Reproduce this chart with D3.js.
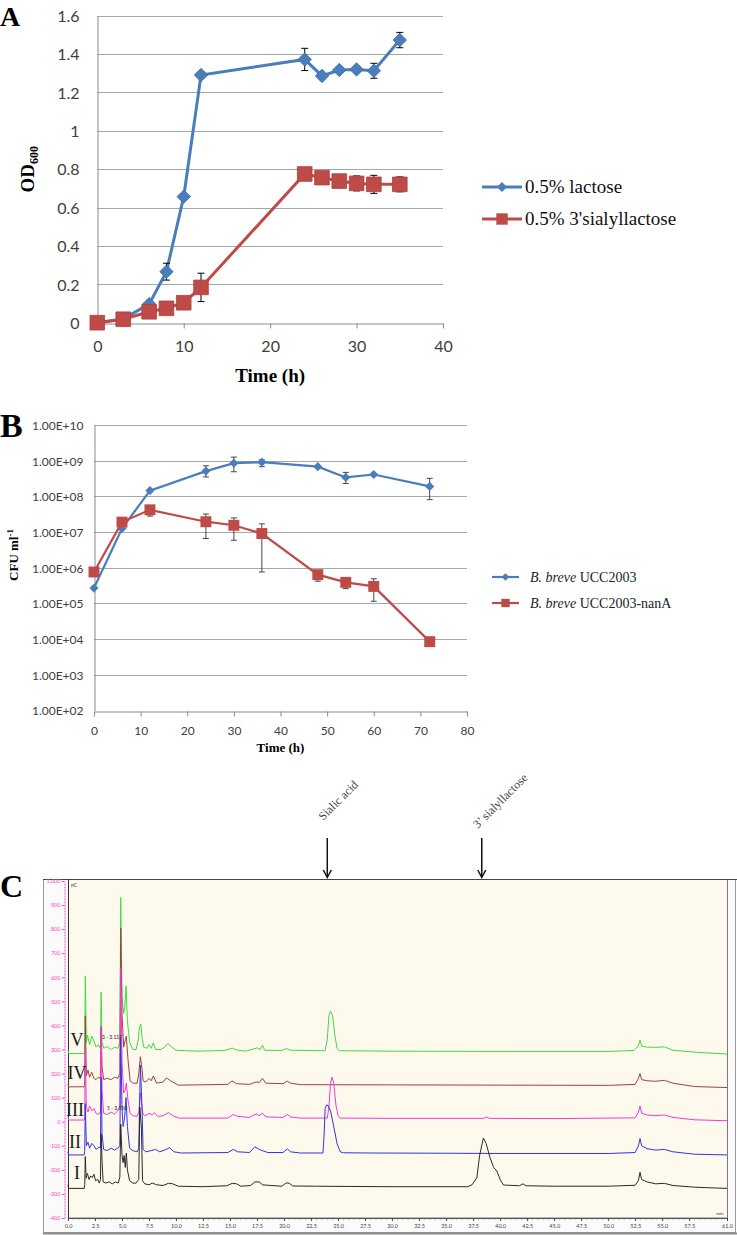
<!DOCTYPE html>
<html><head><meta charset="utf-8">
<script src="https://cdn.jsdelivr.net/npm/d3@7"></script>
<style>body{margin:0;background:#fff}svg{display:block}</style>
</head><body><svg id="c" width="737" height="1235"></svg>
<script>
// ---------- Panel A data ----------
const timeA = [0,3,6,8,10,12,24,26,28,30,32,35];
const lactoseOD = [0,0.02,0.097,0.266,0.657,1.291,1.372,1.286,1.317,1.32,1.313,1.473];
const lactoseErr = [0,0,0,0.044,0,0,0.058,0,0,0,0.039,0.04];
const sialylOD = [0,0.018,0.057,0.075,0.104,0.184,0.775,0.756,0.738,0.726,0.721,0.721];
const sialylErr = [0,0,0,0,0,0.074,0,0,0,0.039,0.047,0.039];
const aYTicks = [0,0.2,0.4,0.6,0.8,1,1.2,1.4,1.6];
const aXTicks = [0,10,20,30,40];
const aLegend = ["0.5% lactose","0.5% 3'sialyllactose"];

// ---------- Panel B data ----------
const timeB = [0,6,12,24,30,36,48,54,60,72];
const wtCFU  = [2.7e5,1.26e7,1.45e8,5.1e8,8.5e8,9.1e8,6.8e8,3.4e8,4.1e8,1.9e8];
const wtLow  = [null,null,null,3.5e8,4.9e8,6.8e8,null,2.3e8,null,8.1e7];
const wtHigh = [null,null,null,7.2e8,1.26e9,1.05e9,null,4.7e8,null,3.2e8];
const mutCFU  = [7.6e5,1.9e7,4.2e7,1.95e7,1.55e7,9.1e6,6.4e5,3.9e5,3.0e5,8.5e3];
const mutLow  = [null,null,2.8e7,6.6e6,5.9e6,7.6e5,4.2e5,2.6e5,1.15e5,null];
const mutHigh = [null,null,5.1e7,3.2e7,2.5e7,1.7e7,7.5e5,4.6e5,4.9e5,null];
const bYTicks = [1e2,1e3,1e4,1e5,1e6,1e7,1e8,1e9,1e10];
const bYLabels = ["1.00E+02","1.00E+03","1.00E+04","1.00E+05","1.00E+06","1.00E+07","1.00E+08","1.00E+09","1.00E+10"];
const bXTicks = [0,10,20,30,40,50,60,70,80];

// ---------- Panel C data (retention time min, signal) ----------
const traceI = [[0,-262],[0.05,-277],[1.5,-277],[1.55,-260],[1.6,-145],[1.68,-235],[1.8,-215],[1.95,-240],[2.1,-225],[2.25,-232],[2.4,-218],[2.55,-245],[2.75,-240],[2.9,-255],[3.0,-240],[3.07,-50],[3.15,-160],[3.25,-250],[3.5,-255],[3.8,-250],[4.1,-258],[4.4,-250],[4.65,-255],[4.8,-230],[4.88,-10],[5.0,-140],[5.1,-170],[5.2,-140],[5.3,-190],[5.4,-130],[5.5,-200],[5.7,-245],[6.0,-255],[6.3,-255],[6.55,-240],[6.65,60],[6.8,-30],[6.9,-245],[7.1,-258],[7.5,-262],[7.8,-255],[8.2,-262],[8.8,-265],[9.3,-256],[9.7,-258],[10.2,-268],[12.5,-270],[14.7,-266],[15.2,-256],[15.6,-258],[16,-268],[16.9,-265],[17.3,-250],[17.7,-250],[18.0,-262],[18.5,-264],[19.8,-268],[20.2,-254],[20.5,-256],[20.8,-267],[23,-268],[30,-270],[37.0,-270],[37.4,-262],[37.85,-232],[38.1,-140],[38.45,-68],[38.7,-90],[39.07,-150],[39.4,-190],[39.7,-205],[40.0,-240],[40.3,-263],[41.8,-266],[42.1,-258],[42.4,-266],[45,-268],[50,-268],[52.5,-264],[52.8,-245],[52.95,-210],[53.1,-240],[53.6,-250],[54.4,-258],[55.2,-256],[56,-265],[58,-272],[61,-277]];
const traceII = [[0,-125],[0.05,-138],[1.5,-138],[1.55,-120],[1.6,75],[1.7,-100],[1.85,-85],[2.0,-110],[2.2,-90],[2.4,-100],[2.6,-115],[2.9,-105],[3.0,-110],[3.07,185],[3.15,-50],[3.3,-115],[3.6,-120],[4.0,-110],[4.3,-118],[4.6,-110],[4.8,-100],[4.88,350],[5.0,60],[5.1,-20],[5.25,20],[5.37,100],[5.5,-20],[5.7,-110],[6.0,-120],[6.4,-125],[6.55,-110],[6.7,235],[6.85,60],[6.95,-115],[7.2,-125],[7.7,-120],[8.1,-115],[8.5,-125],[9.1,-115],[9.4,-108],[9.8,-125],[10.5,-130],[14.8,-128],[15.3,-115],[15.7,-125],[16.8,-128],[17.3,-104],[17.7,-115],[18.1,-122],[18.5,-128],[19.9,-128],[20.3,-113],[20.6,-125],[21.5,-130],[23.6,-130],[23.7,-60],[23.8,55],[23.95,70],[24.1,66],[24.3,45],[24.6,-20],[24.9,-90],[25.2,-125],[25.5,-129],[28,-130],[35,-131],[40,-132],[50,-132],[52.5,-128],[52.8,-100],[52.95,-70],[53.1,-100],[53.6,-112],[54.4,-118],[55.2,-115],[56,-125],[58,-135],[61,-138]];
const traceIII = [[0,20],[0.05,7],[1.5,7],[1.55,20],[1.6,300],[1.7,60],[1.85,40],[2.0,65],[2.2,45],[2.4,55],[2.6,35],[2.8,30],[3.0,40],[3.07,395],[3.15,130],[3.3,35],[3.6,30],[4.0,40],[4.3,32],[4.6,45],[4.8,60],[4.88,640],[5.0,250],[5.15,120],[5.3,130],[5.4,160],[5.55,90],[5.75,35],[6.0,25],[6.4,22],[6.55,40],[6.7,120],[6.85,60],[6.95,30],[7.2,25],[7.5,35],[7.8,28],[8.0,38],[8.3,22],[8.8,25],[9.3,38],[9.7,25],[10.3,15],[14.8,15],[15.3,30],[15.7,22],[16.8,18],[17.4,32],[17.7,25],[18.0,36],[18.3,20],[19.9,18],[20.3,30],[20.6,20],[21.5,15],[24.0,15],[24.15,60],[24.3,160],[24.45,185],[24.6,160],[24.8,70],[25.0,25],[25.2,15],[30,14],[38.5,14],[38.7,20],[39,14],[45,13],[52.5,16],[52.8,40],[52.95,65],[53.1,35],[53.6,28],[54.4,25],[55.2,28],[56,18],[58,8],[61,4]];
const traceIV = [[0,158],[0.05,145],[1.5,145],[1.55,165],[1.6,440],[1.7,190],[1.85,215],[2.0,185],[2.2,205],[2.4,180],[2.6,175],[2.8,185],[3.0,180],[3.07,395],[3.15,230],[3.3,175],[3.6,180],[4.0,175],[4.3,185],[4.6,180],[4.8,200],[4.88,805],[5.0,450],[5.15,310],[5.3,340],[5.4,355],[5.55,260],[5.75,170],[6.0,160],[6.4,160],[6.55,200],[6.7,270],[6.85,220],[6.95,170],[7.2,165],[7.5,180],[7.7,170],[7.9,190],[8.2,160],[8.8,165],[9.1,182],[9.5,170],[10.2,152],[14.8,155],[15.2,170],[15.6,158],[16.8,155],[17.4,165],[17.7,163],[18.0,180],[18.3,160],[19.9,158],[20.3,169],[20.6,160],[21.5,154],[30,153],[40,152],[50,151],[52.5,155],[52.8,180],[52.95,200],[53.1,175],[53.6,170],[54.4,168],[55.2,172],[56,160],[58,146],[61,142]];
const traceV = [[0,300],[0.05,283],[1.5,283],[1.55,300],[1.6,604],[1.7,330],[1.8,360],[2.0,320],[2.2,355],[2.4,335],[2.6,310],[2.8,320],[3.0,305],[3.07,539],[3.15,330],[3.3,305],[3.6,312],[4.0,300],[4.3,310],[4.6,305],[4.8,330],[4.88,931],[5.0,520],[5.15,450],[5.25,470],[5.37,564],[5.5,420],[5.7,330],[6.0,300],[6.3,300],[6.5,340],[6.62,395],[6.75,405],[6.85,350],[7.0,310],[7.3,305],[7.5,320],[7.7,305],[7.9,328],[8.1,300],[8.6,300],[9.0,312],[9.25,325],[9.6,310],[10.0,297],[12,293],[14.5,296],[15.2,306],[15.6,298],[16.5,293],[17.2,303],[17.5,307],[17.8,300],[18.0,318],[18.2,297],[19.8,296],[20.2,304],[20.6,297],[23.8,295],[24.0,340],[24.15,440],[24.3,460],[24.5,440],[24.7,360],[24.9,305],[25.1,295],[30,293],[40,292],[50,292],[52.4,296],[52.8,315],[52.95,339],[53.1,314],[53.6,310],[54.4,309],[55.2,311],[56,297],[58,289],[61,281]];
const traceNames = ["V","IV","III","II","I"];
const cYTicks = [-400,-300,-200,-100,0,100,200,300,400,500,600,700,800,900,1000];
const cXTicks = [0,2.5,5,7.5,10,12.5,15,17.5,20,22.5,25,27.5,30,32.5,35,37.5,40,42.5,45,47.5,50,52.5,55,57.5,61];
const cMarkers = [{t:24.0,label:"Sialic acid"},{t:38.3,label:"3\u2019 sialyllactose"}];

// ---------- drawing ----------
const svg = d3.select('#c');
svg.append('rect').attr('width',737).attr('height',1235).attr('fill','#fff');
const SERIF = "'Liberation Serif','Times New Roman',serif";
const SANS = "Lato, 'Open Sans', sans-serif";
const BLUE = '#4a7ebb', RED = '#be4b48';

function panelLetter(txt,x,y,size){
  svg.append('text').attr('x',x).attr('y',y).attr('font-family',SERIF).attr('font-weight','bold')
    .attr('font-size',size).attr('fill','#000').text(txt);
}
const diamond = s => d3.symbol().type(d3.symbolSquare).size(s)();
const square = s => d3.symbol().type(d3.symbolSquare).size(s)();

// ===== Panel A =====
panelLetter('A',0,26,28);
const xA = d3.scaleLinear().domain([0,40]).range([97.3,443]);
const yA = d3.scaleLinear().domain([0,1.6]).range([322.7,15.7]);
const gA = svg.append('g');
gA.selectAll('line.g').data(aYTicks.filter(d=>d>0)).join('line')
  .attr('x1',xA(0)).attr('x2',xA(40)).attr('y1',d=>Math.round(yA(d))+0.5).attr('y2',d=>Math.round(yA(d))+0.5)
  .attr('stroke','#a6a6a6').attr('stroke-width',1);
const axA_x = gA.append('g').attr('transform',`translate(0,${Math.round(yA(0))+0.5})`)
  .call(d3.axisBottom(xA).tickValues(aXTicks).tickSize(5).tickSizeOuter(0).tickPadding(12).tickFormat(d3.format('d')));
const axA_y = gA.append('g').attr('transform',`translate(${Math.round(xA(0))+0.5},0)`)
  .call(d3.axisLeft(yA).tickValues(aYTicks).tickSize(0).tickPadding(18).tickFormat(d=>d3.format('~g')(d)));
[axA_x,axA_y].forEach(a=>{
  a.select('.domain').attr('stroke','#8a8a8a');
  a.selectAll('.tick line').attr('stroke','#8a8a8a');
  a.selectAll('.tick text').attr('font-family',SANS).attr('font-size',16).attr('fill','#404040');
});
axA_y.selectAll('.tick text').attr('dy','0.36em');

const seriesA = [
  {v:lactoseOD,e:lactoseErr,c:BLUE,shape:'d'},
  {v:sialylOD,e:sialylErr,c:RED,shape:'s'}
];
const lineA = d3.line().x(d=>xA(d[0])).y(d=>yA(d[1]));
seriesA.forEach(s=>{
  const pts = timeA.map((t,i)=>[t,s.v[i],s.e[i]]);
  gA.append('path').attr('d',lineA(pts)).attr('fill','none').attr('stroke',s.c).attr('stroke-width',3);
  const eb = pts.filter(p=>p[2]>0);
  const ge = gA.append('g').attr('stroke','#000').attr('stroke-width',1);
  eb.forEach(p=>{
    const x = xA(p[0]), y1=yA(p[1]-p[2]), y2=yA(p[1]+p[2]);
    ge.append('line').attr('x1',x).attr('x2',x).attr('y1',y1).attr('y2',y2);
    ge.append('line').attr('x1',x-3.5).attr('x2',x+3.5).attr('y1',y1).attr('y2',y1);
    ge.append('line').attr('x1',x-3.5).attr('x2',x+3.5).attr('y1',y2).attr('y2',y2);
  });
  gA.selectAll(null).data(pts).join('path')
    .attr('d', s.shape==='d' ? diamond(90) : square(215))
    .attr('transform',d=>`translate(${xA(d[0])},${yA(d[1])})` + (s.shape==='d'?' rotate(45)':''))
    .attr('fill',s.c).attr('stroke',s.shape==='d'?'#3f6fa8':'#a84340').attr('stroke-width',0.8);
});
// axis titles A
svg.append('text').attr('x',(xA(0)+xA(40))/2).attr('y',382).attr('text-anchor','middle')
  .attr('font-family',SERIF).attr('font-weight','bold').attr('font-size',19).text('Time (h)');
svg.append('text').attr('transform',`translate(34,${(yA(0)+yA(1.6))/2}) rotate(-90)`).attr('text-anchor','middle')
  .attr('font-family',SERIF).attr('font-weight','bold').attr('font-size',19)
  .call(t=>{t.append('tspan').text('OD');t.append('tspan').attr('font-size',12).attr('dy',4).text('600');});
// legend A
const legA = svg.append('g');
aLegend.forEach((lab,i)=>{
  const y = 187 + i*32, c = i===0?BLUE:RED;
  legA.append('line').attr('x1',482).attr('x2',522).attr('y1',y).attr('y2',y).attr('stroke',c).attr('stroke-width',3);
  legA.append('path').attr('d', i===0?diamond(50):square(130))
    .attr('transform',`translate(502,${y})`+(i===0?' rotate(45)':'')).attr('fill',c);
  legA.append('text').attr('x',525).attr('y',y+6).attr('font-family',SERIF).attr('font-size',19).attr('fill','#111').text(lab);
});

// ===== Panel B =====
panelLetter('B',0,437,34);
const xB = d3.scaleLinear().domain([0,80]).range([94,467]);
const yB = d3.scaleLog().domain([1e2,1e10]).range([710.5,425]);
const gB = svg.append('g');
gB.selectAll('line.g').data(bYTicks.slice(1)).join('line')
  .attr('x1',xB(0)).attr('x2',xB(80)).attr('y1',d=>Math.round(yB(d))+0.5).attr('y2',d=>Math.round(yB(d))+0.5)
  .attr('stroke','#a6a6a6').attr('stroke-width',1);
const axB_x = gB.append('g').attr('transform',`translate(0,${Math.round(yB(1e2))+0.5})`)
  .call(d3.axisBottom(xB).tickValues(bXTicks).tickSize(5).tickSizeOuter(0).tickPadding(10).tickFormat(d3.format('d')));
const axB_y = gB.append('g').attr('transform',`translate(${Math.round(xB(0))+0.5},0)`)
  .call(d3.axisLeft(yB).tickValues(bYTicks).tickSize(0).tickPadding(11).tickFormat((d,i)=>bYLabels[i]));
[axB_x,axB_y].forEach(a=>{
  a.select('.domain').attr('stroke','#8a8a8a');
  a.selectAll('.tick line').attr('stroke','#8a8a8a');
  a.selectAll('.tick text').attr('font-family',SANS).attr('font-size',12).attr('fill','#404040');
});
axB_y.selectAll('.tick text').attr('dy','0.36em');
const seriesB = [
  {v:wtCFU,lo:wtLow,hi:wtHigh,c:BLUE,shape:'d'},
  {v:mutCFU,lo:mutLow,hi:mutHigh,c:RED,shape:'s'}
];
const lineB = d3.line().x(d=>xB(d.t)).y(d=>yB(d.v));
seriesB.forEach(s=>{
  const pts = timeB.map((t,i)=>({t,v:s.v[i],lo:s.lo[i],hi:s.hi[i]}));
  gB.append('path').attr('d',lineB(pts)).attr('fill','none').attr('stroke',s.c).attr('stroke-width',2.2);
  const ge = gB.append('g').attr('stroke','#333').attr('stroke-width',0.9);
  pts.forEach(p=>{
    const x = xB(p.t);
    [p.lo,p.hi].forEach(b=>{
      if(b==null) return;
      ge.append('line').attr('x1',x).attr('x2',x).attr('y1',yB(p.v)).attr('y2',yB(b));
      ge.append('line').attr('x1',x-3).attr('x2',x+3).attr('y1',yB(b)).attr('y2',yB(b));
    });
  });
  gB.selectAll(null).data(pts).join('path')
    .attr('d', s.shape==='d'?diamond(42):square(120))
    .attr('transform',d=>`translate(${xB(d.t)},${yB(d.v)})`+(s.shape==='d'?' rotate(45)':''))
    .attr('fill',s.c);
});
svg.append('text').attr('x',(xB(0)+xB(80))/2).attr('y',752).attr('text-anchor','middle')
  .attr('font-family',SERIF).attr('font-weight','bold').attr('font-size',13).text('Time (h)');
svg.append('text').attr('transform','translate(18,555) rotate(-90)').attr('text-anchor','middle')
  .attr('font-family',SERIF).attr('font-weight','bold').attr('font-size',13)
  .call(t=>{t.append('tspan').text('CFU ml');t.append('tspan').attr('font-size',9).attr('dy',-5).text('-1');});
const legB = svg.append('g');
[['UCC2003',BLUE,'d'],['UCC2003-nanA',RED,'s']].forEach((e,i)=>{
  const y = 577 + i*26;
  legB.append('line').attr('x1',492).attr('x2',519).attr('y1',y).attr('y2',y).attr('stroke',e[1]).attr('stroke-width',2.2);
  legB.append('path').attr('d',e[2]==='d'?diamond(30):square(70))
    .attr('transform',`translate(505.5,${y})`+(e[2]==='d'?' rotate(45)':'')).attr('fill',e[1]);
  const t = legB.append('text').attr('x',530).attr('y',y+5).attr('font-family',SERIF).attr('font-size',14).attr('fill','#222');
  t.append('tspan').attr('font-style','italic').text('B. breve');
  t.append('tspan').text(' '+e[0]);
});

// ===== Panel C =====
panelLetter('C',0,897,32);
const xC = d3.scaleLinear().domain([0,61]).range([68,727]);
const yC = d3.scaleLinear().domain([-400,1000]).range([1218,881]);
const gC = svg.append('g');
gC.append('rect').attr('x',43.5).attr('y',879.5).attr('width',692).attr('height',353)
  .attr('fill','#fbfbfb').attr('stroke','#9a9a9a').attr('stroke-width',1);
gC.append('line').attr('x1',43).attr('x2',737).attr('y1',1233.5).attr('y2',1233.5).attr('stroke','#8c8c8c').attr('stroke-width',2);
gC.append('rect').attr('x',68.5).attr('y',879.5).attr('width',659).attr('height',338.5)
  .attr('fill','#fdf9ec').attr('stroke','#7a7a7a').attr('stroke-width',1);
gC.append('line').attr('x1',43).attr('x2',737).attr('y1',879.5).attr('y2',879.5).attr('stroke','#444').attr('stroke-width',1.2);
gC.append('line').attr('x1',68.5).attr('x2',68.5).attr('y1',879).attr('y2',1218).attr('stroke','#333').attr('stroke-width',1);
// pink y axis
const axC_y = gC.append('g').attr('transform','translate(64.5,0)')
  .call(d3.axisLeft(yC).tickValues(cYTicks).tickSize(2.5).tickSizeOuter(0).tickPadding(1.5)
    .tickFormat(d=>d===1000?'1,000':String(d)));
axC_y.select('.domain').attr('stroke','#ff44d0').attr('stroke-dasharray','2,1');
axC_y.selectAll('.tick line').attr('stroke','#ff44d0');
axC_y.selectAll('.tick text').attr('font-family',SANS).attr('font-size',5.5).attr('fill','#ff3fcf');
// x axis
const axC_x = gC.append('g').attr('transform','translate(0,1218)')
  .call(d3.axisBottom(xC).tickValues(cXTicks).tickSize(3).tickSizeOuter(0).tickPadding(3).tickFormat(d3.format('.1f')));
axC_x.select('.domain').attr('stroke','#555');
axC_x.selectAll('.tick line').attr('stroke','#444');
axC_x.selectAll('.tick text').attr('font-family',SANS).attr('font-size',5.5).attr('fill','#444');
gC.append('g').selectAll('line').data(d3.range(0,61,0.5)).join('line')
  .attr('x1',d=>xC(d)).attr('x2',d=>xC(d)).attr('y1',1218).attr('y2',1220).attr('stroke','#666').attr('stroke-width',0.5);
gC.append('text').attr('x',720).attr('y',1215).attr('text-anchor','middle').attr('font-family',SANS).attr('font-size',4.5).attr('fill','#333').text('min');
gC.append('text').attr('x',71).attr('y',887).attr('font-family',SANS).attr('font-size',5).attr('fill','#333').text('nC');

// traces
const traces = [
  {d:traceV,c:'#3fdc3f'},{d:traceIV,c:'#9c4444'},{d:traceIII,c:'#f23ad6'},{d:traceII,c:'#3535dc'},{d:traceI,c:'#2a2a2a'}
];
const lineC = d3.line().x(d=>xC(d[0])).y(d=>yC(d[1]));
traces.forEach(tr=>{
  gC.append('path').attr('d',lineC(tr.d)).attr('fill','none').attr('stroke',tr.c).attr('stroke-width',1).attr('stroke-linejoin','round');
});
// peak annotations
gC.append('text').attr('x',102).attr('y',1039).attr('font-family',SANS).attr('font-size',5).attr('fill','#222').text('3 - 3.117');
gC.append('text').attr('x',107).attr('y',1110).attr('font-family',SANS).attr('font-size',5).attr('fill','#222').text('5 - 3.950');
// trace labels
const labelPos = [[77,1040],[77,1073],[75,1110],[75,1142],[77,1173]];
traceNames.forEach((n,i)=>{
  gC.append('text').attr('x',labelPos[i][0]).attr('y',labelPos[i][1]).attr('dy','0.35em').attr('text-anchor','middle')
    .attr('font-family',SERIF).attr('font-size',18).attr('fill','#1a1a1a').text(n);
});
// arrows + rotated labels
cMarkers.forEach(m=>{
  const x = xC(m.t);
  gC.append('line').attr('x1',x).attr('x2',x).attr('y1',838).attr('y2',877).attr('stroke','#111').attr('stroke-width',1.5);
  gC.append('path').attr('d',`M${x-4},${870}L${x},${877.5}L${x+4},${870}`).attr('fill','none').attr('stroke','#111').attr('stroke-width',1.5);
  gC.append('text').attr('transform',`translate(${x-4},${m.t<30?821:829}) rotate(-45)`)
    .attr('font-family',SERIF).attr('font-size',12).attr('fill','#444').text(m.label);
});
</script></body></html>
